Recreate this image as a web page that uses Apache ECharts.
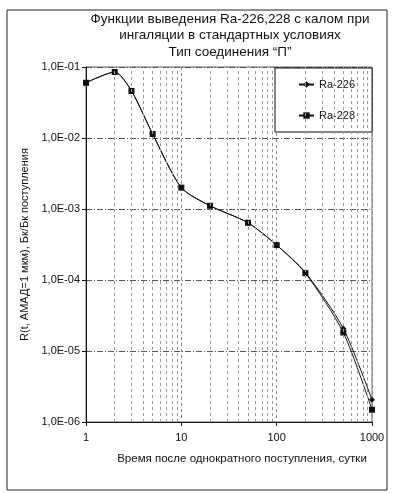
<!DOCTYPE html>
<html><head><meta charset="utf-8">
<script src="https://cdn.jsdelivr.net/npm/echarts@6/dist/echarts.min.js"></script>
<style>html,body{margin:0;padding:0;background:#fff}#c{width:393px;height:493px}</style>
</head><body><div id="c"></div>
<script>
const titleLines = ['Функции выведения Ra-226,228 с калом при', 'ингаляции в стандартных условиях', 'Тип соединения “П”'];
const xName = 'Время после однократного поступления, сутки';
const yName = 'R(t, АМАД=1 мкм), Бк/Бк поступления';
const days = [1, 2, 3, 5, 10, 20, 50, 100, 200, 500, 1000];
const ra226 = [0.060, 0.085, 0.046, 0.0114, 0.0020, 0.00111, 0.00064, 0.00031, 0.000128, 0.0000208, 0.00000205];
const ra228 = [0.060, 0.085, 0.046, 0.0114, 0.0020, 0.00111, 0.00064, 0.00031, 0.000125, 0.0000182, 0.00000149];
const minorGridX = [2,3,4,5,6,7,8,9,20,30,40,50,60,70,80,90,200,300,400,500,600,700,800,900];
const FONT = '"Liberation Sans", Arial, sans-serif';

function fmtE(v) {
  const e = Math.round(Math.log10(v));
  const a = Math.abs(e);
  return '1,0E' + (e < 0 ? '-' : '+') + (a < 10 ? '0' : '') + a;
}
const chart = echarts.init(document.getElementById('c'));
chart.setOption({
  animation: false,
  textStyle: { fontFamily: FONT },
  title: {
    text: titleLines.join('\n'),
    left: 225, top: 6, textAlign: 'center',
    textStyle: { fontFamily: FONT, fontSize: 13.5, fontWeight: 'normal', color: '#111', lineHeight: 16.5, align: 'center' }
  },
  legend: {
    orient: 'vertical', left: 275, top: 68,
    padding: [11, 17, 11, 23], itemGap: 20, itemWidth: 15, itemHeight: 8,
    backgroundColor: '#fff', borderColor: '#111', borderWidth: 1,
    textStyle: { fontFamily: FONT, fontSize: 11, color: '#111' },
    data: ['Ra-226', 'Ra-228']
  },
  grid: { left: 86, right: 21, top: 67, bottom: 71, show: true, borderColor: '#666', borderWidth: 1 },
  xAxis: {
    type: 'log', logBase: 10, min: 1, max: 1000,
    axisLine: { lineStyle: { color: '#111', width: 1 } },
    axisTick: { show: true, length: 4, lineStyle: { color: '#111' } },
    axisLabel: { fontFamily: FONT, fontSize: 11, color: '#111', margin: 10, formatter: v => String(Math.round(v)) },
    splitLine: { show: true, lineStyle: { color: '#888', type: [3, 3], width: 1 } },
    minorTick: { show: false }
  },
  yAxis: {
    type: 'log', logBase: 10, min: 1e-6, max: 1e-1,
    name: yName, nameLocation: 'middle', nameGap: 55,
    nameTextStyle: { fontFamily: FONT, fontSize: 11, color: '#111' },
    axisLine: { show: true, lineStyle: { color: '#111', width: 1 } },
    axisTick: { show: true, length: 4, lineStyle: { color: '#111' } },
    axisLabel: { fontFamily: FONT, fontSize: 11, color: '#111', margin: 6, formatter: fmtE },
    splitLine: { show: true, lineStyle: { color: '#555', type: [6, 2, 1, 2], width: 1 } }
  },
  graphic: [
    { type: 'rect', shape: { x: 7, y: 10, width: 380, height: 480 }, style: { fill: 'none', stroke: '#222', lineWidth: 1 }, z: 100 },
    { type: 'text', style: { text: xName, x: 242, y: 459, textAlign: 'center', textVerticalAlign: 'middle', font: '11.5px ' + FONT, fill: '#111' } }
  ],
  series: [
    {
      name: 'minor', type: 'line', data: [], silent: true,
      markLine: {
        silent: true, symbol: 'none', animation: false,
        label: { show: false },
        lineStyle: { color: '#999', type: [3, 3], width: 1 },
        data: minorGridX.map(v => ({ xAxis: v }))
      }
    },
    {
      name: 'Ra-226', type: 'line', smooth: 0.25,
      data: days.map((d, i) => [d, ra226[i]]),
      symbol: 'diamond', symbolSize: 6,
      lineStyle: { color: '#111', width: 1 },
      itemStyle: { color: '#111' }
    },
    {
      name: 'Ra-228', type: 'line', smooth: 0.25,
      data: days.map((d, i) => [d, ra228[i]]),
      symbol: 'rect', symbolSize: 6,
      lineStyle: { color: '#111', width: 1 },
      itemStyle: { color: '#111' }
    }
  ]
});
</script></body></html>
